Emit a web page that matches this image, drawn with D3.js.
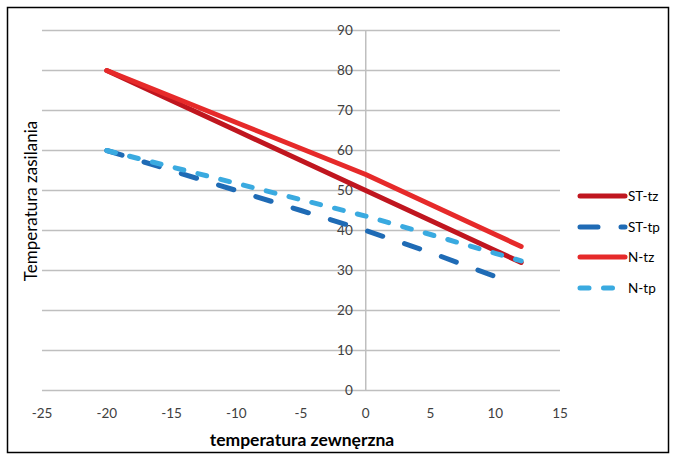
<!DOCTYPE html>
<html><head><meta charset="utf-8">
<script src="https://cdn.jsdelivr.net/npm/d3@7"></script>
<style>body{margin:0;background:#fff}svg{display:block}</style>
</head><body>
<svg id="c" width="673" height="459"></svg>
<script>
const temps = [-20, -15, -10, -5, 0, 5, 10, 12];
const stTz = [80, 72.5, 65, 57.5, 50, 42.5, 35, 32];
const stTpTemps = [-20, -15, -10, -5, 0, 5, 10, 11];
const stTp = [60, 55, 50, 45, 40, 34.5, 28.5, 27];
const nTz = [80, 73.5, 67, 60.5, 54, 46.5, 39, 36];
const nTp = [60, 55.9, 51.8, 47.7, 43.6, 39, 34.3, 32.4];
const xTicks = [-25, -20, -15, -10, -5, 0, 5, 10, 15];
const yTicks = [0, 10, 20, 30, 40, 50, 60, 70, 80, 90];
const seriesNames = ["ST-tz", "ST-tp", "N-tz", "N-tp"];
const colors = ["#C0161F", "#1F6BB5", "#E62A2A", "#3AAAE0"];
const dashes = [null, "16 23", null, "9 14.5"];

const svg = d3.select("#c");
const font = "Lato, 'Open Sans', sans-serif";
const x = d3.scaleLinear().domain([-25, 15]).range([42, 560]);
const y = d3.scaleLinear().domain([0, 90]).range([390.5, 30.5]);

svg.append("rect").attr("x", 7.5).attr("y", 7.5).attr("width", 661).attr("height", 445)
  .attr("fill", "#fff").attr("stroke", "#000").attr("stroke-width", 1.5);

// gridlines
svg.append("g").selectAll("line").data(yTicks).join("line")
  .attr("x1", x(-25)).attr("x2", x(15)).attr("y1", d => y(d)).attr("y2", d => y(d))
  .attr("stroke", "#BFBFBF").attr("stroke-width", 1.5);
// vertical axis at x=0
svg.append("line").attr("x1", x(0)).attr("x2", x(0)).attr("y1", y(90)).attr("y2", y(0))
  .attr("stroke", "#BFBFBF").attr("stroke-width", 1.5);

// y tick labels (over gridlines, next to axis)
svg.append("g").selectAll("text").data(yTicks).join("text")
  .attr("x", x(0) - 13).attr("y", d => y(d)).attr("dy", "0.35em")
  .attr("text-anchor", "end").attr("font-family", font).attr("font-size", 13.5)
  .attr("fill", "#404040").text(d => d);

// x tick labels
svg.append("g").selectAll("text").data(xTicks).join("text")
  .attr("x", d => x(d)).attr("y", 413).attr("dy", "0.35em")
  .attr("text-anchor", "middle").attr("font-family", font).attr("font-size", 13.5)
  .attr("fill", "#404040").text(d => d);

// axis titles
svg.append("text").attr("x", 302).attr("y", 440).attr("dy", "0.35em")
  .attr("text-anchor", "middle").attr("font-family", font).attr("font-size", 17.5)
  .attr("font-weight", "bold").attr("fill", "#000").text("temperatura zewnęrzna");
svg.append("text").attr("transform", "translate(31,201) rotate(-90)").attr("dy", "0.35em")
  .attr("text-anchor", "middle").attr("font-family", font).attr("font-size", 17)
  .attr("fill", "#000").text("Temperatura zasilania");

// series
const data = [
  temps.map((t, i) => [t, stTz[i]]),
  stTpTemps.map((t, i) => [t, stTp[i]]),
  temps.map((t, i) => [t, nTz[i]]),
  temps.map((t, i) => [t, nTp[i]])
];
const line = d3.line().x(d => x(d[0])).y(d => y(d[1]));
data.forEach((s, i) => {
  svg.append("path").attr("d", line(s)).attr("fill", "none")
    .attr("stroke", colors[i]).attr("stroke-width", 5)
    .attr("stroke-linecap", "round").attr("stroke-linejoin", "round")
    .attr("stroke-dasharray", dashes[i]);
});

// legend
const legY = [196, 227, 257, 288];
seriesNames.forEach((n, i) => {
  svg.append("line").attr("x1", 580).attr("x2", 625).attr("y1", legY[i]).attr("y2", legY[i])
    .attr("stroke", colors[i]).attr("stroke-width", 5).attr("stroke-linecap", "round")
    .attr("stroke-dasharray", i === 1 ? "18 23" : (i === 3 ? "9 14.5" : null));
  svg.append("text").attr("x", 628).attr("y", legY[i]).attr("dy", "0.35em")
    .attr("font-family", font).attr("font-size", 13.5).attr("fill", "#000").text(n);
});
</script>
</body></html>
